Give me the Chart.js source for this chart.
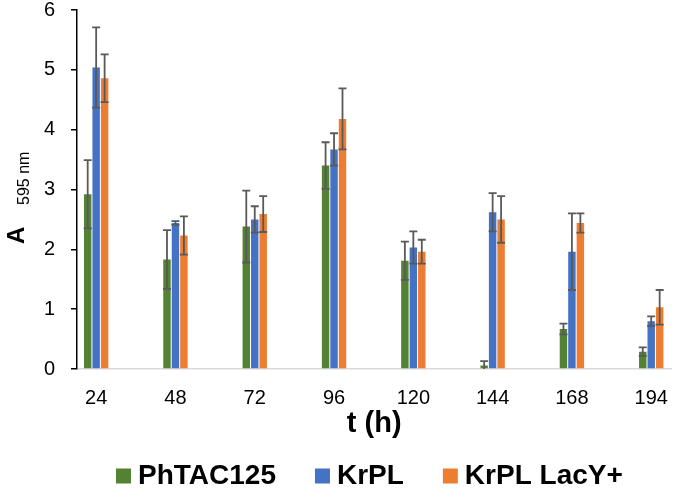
<!DOCTYPE html>
<html>
<head>
<meta charset="utf-8">
<script src="https://cdn.jsdelivr.net/npm/chart.js@4.4.1/dist/chart.umd.min.js"></script>
<style>
  html, body { margin: 0; padding: 0; background: #fff; }
  #wrap { width: 685px; height: 491px; }
</style>
</head>
<body>
<div id="wrap"><canvas id="bar_chart"></canvas></div>
<script>
var timeLabels = ["24", "48", "72", "96", "120", "144", "168", "194"];
var phtac = [2.92, 1.83, 2.38, 3.40, 1.81, 0.06, 0.67, 0.29];
var phtacErr = [0.57, 0.49, 0.60, 0.39, 0.32, 0.07, 0.09, 0.07];
var krpl = [5.04, 2.44, 2.50, 3.67, 2.03, 2.62, 1.96, 0.80];
var krplErr = [0.67, 0.03, 0.22, 0.27, 0.27, 0.32, 0.64, 0.08];
var lacy = [4.86, 2.23, 2.59, 4.18, 1.96, 2.50, 2.44, 1.03];
var lacyErr = [0.40, 0.32, 0.30, 0.51, 0.20, 0.39, 0.16, 0.29];

var FONT = "'Liberation Sans', Arial, sans-serif";

function points(values) {
    return values.map(function (v, i) {
        return { x: i, y: v };
    });
}

// error bars drawn on top of each bar, using the y scale
var errorBars = {
    id: "errorBars",
    afterDatasetsDraw: function (chart) {
        var ctx = chart.ctx,
            yScale = chart.scales.y;
        ctx.save();
        ctx.strokeStyle = "#595959";
        ctx.lineWidth = 1.8;
        chart.data.datasets.forEach(function (ds, di) {
            chart.getDatasetMeta(di).data.forEach(function (bar, i) {
                var v = ds.data[i].y,
                    e = ds.errors[i];
                var top = yScale.getPixelForValue(v + e),
                    bot = yScale.getPixelForValue(Math.max(v - e, 0));
                ctx.beginPath();
                ctx.moveTo(bar.x, top);
                ctx.lineTo(bar.x, bot);
                ctx.moveTo(bar.x - 4, top);
                ctx.lineTo(bar.x + 4, top);
                if (v - e > 0) {
                    ctx.moveTo(bar.x - 4, bot);
                    ctx.lineTo(bar.x + 4, bot);
                }
                ctx.stroke();
            });
        });
        ctx.restore();
    },
};

// y axis title "A 595 nm" with subscript
var yTitle = {
    id: "yTitle",
    afterDraw: function (chart) {
        var ctx = chart.ctx;
        ctx.save();
        ctx.translate(24, 244);
        ctx.rotate(-Math.PI / 2);
        ctx.fillStyle = "#000";
        ctx.textBaseline = "alphabetic";
        ctx.textAlign = "left";
        ctx.font = "bold 24px " + FONT;
        ctx.fillText("A", 0, 0);
        ctx.font = "16px " + FONT;
        ctx.fillText("595 nm", 39, 5);
        ctx.restore();
    },
};

new Chart(document.getElementById("bar_chart").getContext("2d"), {
    type: "bar",
    data: {
        datasets: [
            {
                label: "PhTAC125",
                data: points(phtac),
                errors: phtacErr,
                backgroundColor: "#548235",
            },
            {
                label: "KrPL",
                data: points(krpl),
                errors: krplErr,
                backgroundColor: "#4472C4",
            },
            {
                label: "KrPL LacY+",
                data: points(lacy),
                errors: lacyErr,
                backgroundColor: "#ED7D31",
            },
        ],
    },
    options: {
        responsive: true,
        maintainAspectRatio: false,
        animation: false,
        categoryPercentage: 0.32,
        barPercentage: 0.88,
        layout: { padding: { top: 10, right: 3, left: 0, bottom: 0 } },
        scales: {
            x: {
                type: "linear",
                min: -0.2416,
                max: 7.255,
                offset: false,
                afterBuildTicks: function (scale) {
                    scale.ticks = timeLabels.map(function (_, i) {
                        return { value: i };
                    });
                },
                ticks: {
                    callback: function (v) {
                        return timeLabels[v];
                    },
                    autoSkip: false,
                    maxRotation: 0,
                    color: "#000",
                    padding: 17,
                    font: { family: FONT, size: 20 },
                },
                grid: { drawOnChartArea: false, drawTicks: false, offset: false },
                border: { color: "#d9d9d9", width: 1.5 },
                title: {
                    display: true,
                    text: "t (h)",
                    color: "#000",
                    font: { family: FONT, size: 29, weight: "bold" },
                    padding: { top: -20.9, bottom: -24.9 },
                },
            },
            y: {
                min: 0,
                max: 6,
                afterFit: function (scale) {
                    scale.width = 77;
                    scale.paddingTop = 0;
                },
                ticks: {
                    stepSize: 1,
                    color: "#000",
                    padding: 16,
                    font: { family: FONT, size: 20 },
                },
                grid: {
                    drawOnChartArea: false,
                    tickLength: 6,
                    color: "#000",
                    lineWidth: 1.5,
                },
                border: { color: "#000", width: 1.5 },
            },
        },
        plugins: {
            tooltip: { enabled: false },
            legend: {
                position: "bottom",
                align: "start",
                fullSize: false,
                maxHeight: 75,
                labels: {
                    usePointStyle: true,
                    pointStyle: "rect",
                    boxWidth: 1,
                    boxHeight: 15,
                    padding: 46,
                    color: "#000",
                    font: { family: FONT, size: 28, weight: "bold" },
                },
            },
        },
    },
    plugins: [errorBars, yTitle],
});
</script>
</body>
</html>
